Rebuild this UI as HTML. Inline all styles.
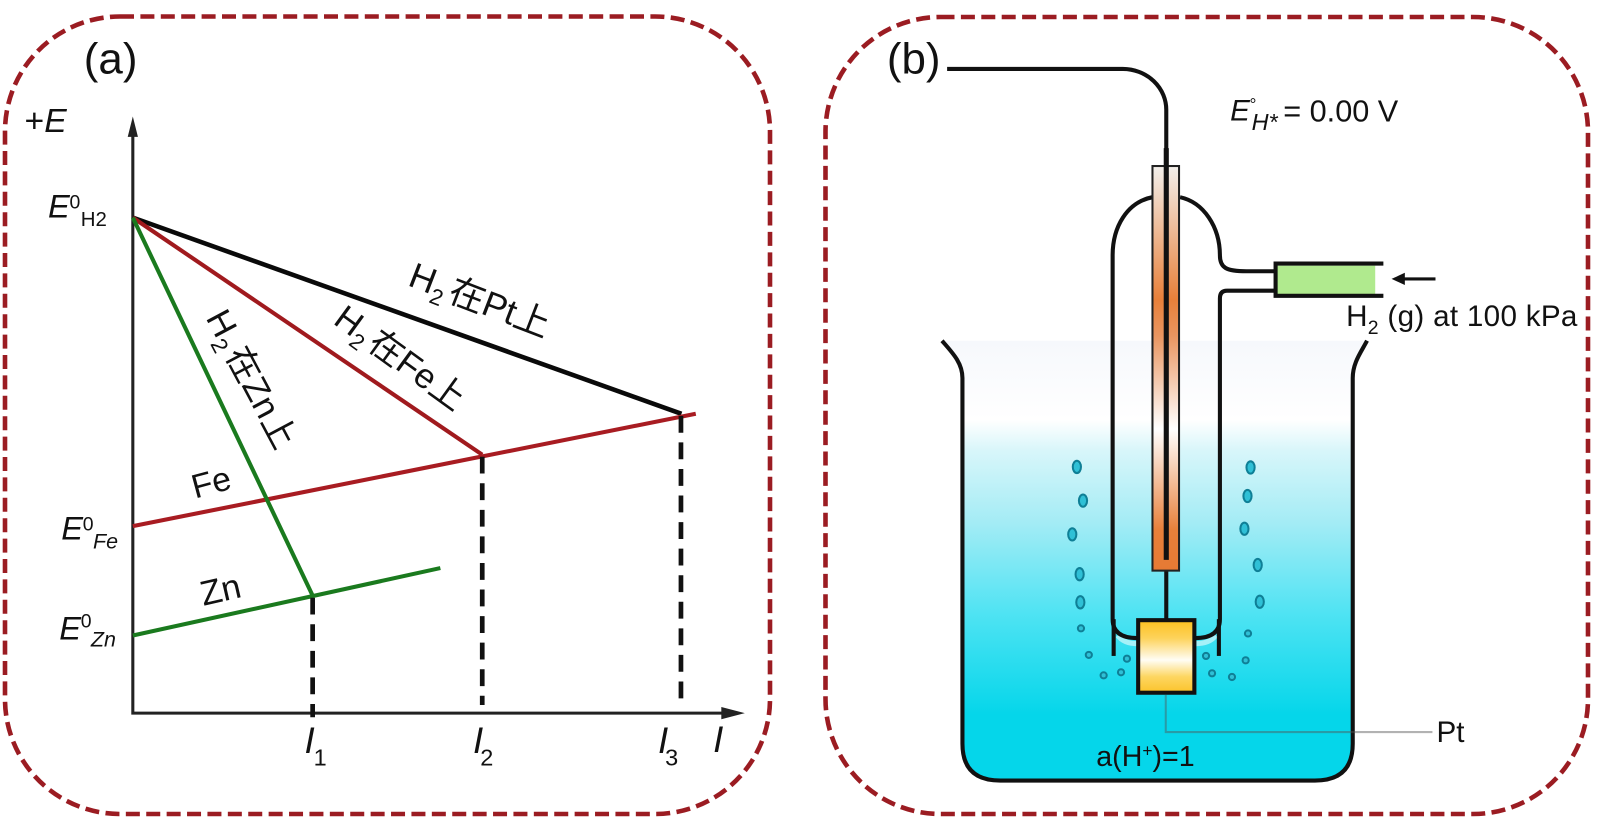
<!DOCTYPE html>
<html><head><meta charset="utf-8"><style>
html,body{margin:0;padding:0;background:#fff;width:1600px;height:818px;overflow:hidden}
svg{display:block}
text{font-family:"Liberation Sans","Noto Sans CJK SC",sans-serif;fill:#111}
</style></head><body>
<svg width="1600" height="818" viewBox="0 0 1600 818" xmlns="http://www.w3.org/2000/svg">
<defs>
<linearGradient id="w" x1="0" y1="0" x2="0" y2="1"><stop offset="0" stop-color="#f6f8fc"/><stop offset=".18" stop-color="#ffffff"/><stop offset=".25" stop-color="#d8f6fa"/><stop offset=".41" stop-color="#a5ecf5"/><stop offset=".62" stop-color="#4fe3f3"/><stop offset=".85" stop-color="#05d6ea"/><stop offset="1" stop-color="#05d6ea"/></linearGradient>
<linearGradient id="t" x1="0" y1="0" x2="0" y2="1"><stop offset="0" stop-color="#f3f0ec"/><stop offset=".33" stop-color="#e8803a"/><stop offset=".42" stop-color="#e99560"/><stop offset=".65" stop-color="#ffffff"/><stop offset=".9" stop-color="#e8803a"/><stop offset="1" stop-color="#e67a34"/></linearGradient>
<linearGradient id="p" x1="0" y1="0" x2="0" y2="1"><stop offset="0" stop-color="#fdc11f"/><stop offset=".25" stop-color="#fdd35c"/><stop offset=".55" stop-color="#fffdf5"/><stop offset=".78" stop-color="#fdd661"/><stop offset="1" stop-color="#fcc32a"/></linearGradient>
</defs>
<rect x="5" y="16.5" width="765" height="797.5" rx="115" fill="none" stroke="#9b1c22" stroke-width="4.6" stroke-dasharray="14 6.4"/>
<rect x="825.5" y="17" width="762.5" height="797" rx="115" fill="none" stroke="#9b1c22" stroke-width="4.6" stroke-dasharray="14 6.4"/>
<g transform="scale(1.0217)">
<!-- panel a -->
<text x="82" y="72" font-size="43">(a)</text>
<text x="24" y="129" font-size="33">+<tspan font-style="italic">E</tspan></text>
<path d="M130 125V698H712" fill="none" stroke="#222" stroke-width="3"/>
<path d="M130 114L125 134H135Z M729 698L706 692V704Z" fill="#222"/>
<g fill="none" stroke-width="4">
<path d="M130 213L667 405" stroke="#0a0a0a" stroke-width="4.5"/>
<path d="M130 213L472 445" stroke="#a01a1e"/>
<path d="M130 515L681 405" stroke="#a81c22"/>
<path d="M130 213L306 583" stroke="#1a7a1e"/>
<path d="M130 622L431 556" stroke="#1a7a1e"/>
<path d="M306 585V702M472 447V690M666.5 407V688" stroke="#111" stroke-width="4.6" stroke-dasharray="16.5 9.5"/>
</g>
<text x="47" y="213" font-size="32" font-style="italic">E</text><text x="68" y="204" font-size="19">0</text><text x="79" y="221" font-size="20">H2</text>
<text x="60" y="528" font-size="32" font-style="italic">E</text><text x="81" y="519" font-size="19">0</text><text x="91" y="537" font-size="21" font-style="italic">Fe</text>
<text x="58" y="626" font-size="32" font-style="italic">E</text><text x="79" y="614" font-size="19">0</text><text x="89" y="633" font-size="21" font-style="italic">Zn</text>
<text transform="translate(191 488) rotate(-15)" font-size="33">Fe</text>
<text transform="translate(199 593) rotate(-13)" font-size="34">Zn</text>
<text transform="translate(398 279) rotate(21)" font-size="35">H<tspan font-size="22" dy="8">2</tspan><tspan dy="-8" dx="4">在Pt上</tspan></text>
<text transform="translate(325 316) rotate(36)" font-size="34">H<tspan font-size="22" dy="8">2</tspan><tspan dy="-8" dx="4">在Fe上</tspan></text>
<text transform="translate(201 311) rotate(62)" font-size="34">H<tspan font-size="22" dy="8">2</tspan><tspan dy="-8" dx="4">在Zn上</tspan></text>
<text x="298" y="737" font-size="36" font-style="italic">I</text><text x="307" y="749" font-size="23">1</text>
<text x="463" y="737" font-size="36" font-style="italic">I</text><text x="470" y="749" font-size="23">2</text>
<text x="644" y="737" font-size="36" font-style="italic">I</text><text x="651" y="749" font-size="23">3</text>
<text x="698" y="736" font-size="36" font-style="italic">I</text>
<!-- panel b -->
<text x="868" y="72" font-size="43">(b)</text>
<path d="M922 333.5C932 345 942 355 942 370V728Q942 764 979 764H1287Q1324 764 1324 728V370C1324 355 1332 345 1338 333.5Z" fill="url(#w)"/>
<path d="M922 333.5C932 345 942 355 942 370V728Q942 764 979 764H1287Q1324 764 1324 728V370C1324 355 1332 345 1338 333.5" fill="none" stroke="#111" stroke-width="4"/>
<g fill="none" stroke="#fff" stroke-opacity=".55" stroke-width="5"><path d="M1094 622Q1100 630 1113 630"/><path d="M1190 622Q1184 630 1170 630"/></g>
<g fill="none" stroke="#111" stroke-width="4">
<path d="M1128 193C1103 198 1089 222 1089 250V606Q1089 624.500 1113 624.500"/>
<path d="M1090 606V642"/>
<path d="M1155 193C1178 198 1194 222 1194 250C1194 262 1200 265.500 1220 265.500H1250"/>
<path d="M1250 284.500H1201Q1194 284.500 1194 292V606Q1194 624.500 1170 624.500"/>
<path d="M1193 606V642"/>
</g>
<path d="M927 67.500H1099A42.500 40 0 0 1 1141.500 108V607" fill="none" stroke="#111" stroke-width="4"/>
<rect x="1128" y="162.500" width="26" height="396" fill="url(#t)" stroke="#222" stroke-width="2"/>
<path d="M1141.500 145V548" stroke="#111" stroke-width="5" fill="none"/>
<rect x="1114" y="607" width="55" height="71" fill="url(#p)" stroke="#111" stroke-width="4"/>
<rect x="1250" y="260" width="96" height="28" fill="#b0ea8e"/>
<path d="M1354 258H1248.500V289.500H1354" fill="none" stroke="#111" stroke-width="4"/>
<path d="M1405 273H1372" stroke="#111" stroke-width="3"/><path d="M1362 273L1375 267V279Z" fill="#111"/>
<path d="M1141 680V716.500H1402" fill="none" stroke="#555" stroke-opacity=".45" stroke-width="2"/>
<g fill="#2fc0d6" stroke="#0f7f96" stroke-width="2">
<ellipse cx="1054" cy="457" rx="4" ry="6"/><ellipse cx="1060" cy="490" rx="4" ry="6"/><ellipse cx="1049.500" cy="523" rx="4" ry="6"/><ellipse cx="1056.700" cy="562" rx="4" ry="6"/><ellipse cx="1057.400" cy="589.500" rx="4" ry="6"/>
<ellipse cx="1224" cy="457.500" rx="4" ry="6"/><ellipse cx="1221" cy="485.500" rx="4" ry="6"/><ellipse cx="1218" cy="517.500" rx="4" ry="6"/><ellipse cx="1231" cy="553" rx="4" ry="6"/><ellipse cx="1233" cy="589" rx="4" ry="6"/>
<circle cx="1058" cy="615" r="3"/><circle cx="1065.700" cy="641" r="3"/><circle cx="1103" cy="644.700" r="3"/><circle cx="1080.200" cy="661" r="3"/><circle cx="1097.200" cy="658" r="3"/>
<circle cx="1221.500" cy="620" r="3"/><circle cx="1219.200" cy="646.300" r="3"/><circle cx="1180.400" cy="642" r="3"/><circle cx="1186.300" cy="659" r="3"/><circle cx="1205.800" cy="662.600" r="3"/>
</g>
<text x="1204" y="118" font-size="29" font-style="italic">E</text><text x="1223" y="108" font-size="17">°</text><text x="1225" y="127" font-size="23" font-style="italic">H*</text><text x="1256" y="119" font-size="30" textLength="112.500">= 0.00 V</text>
<text x="1317.500" y="319" font-size="29" letter-spacing=".3">H<tspan font-size="19" dy="8">2</tspan><tspan dy="-8"> (g) at 100 kPa</tspan></text>
<text x="1406" y="726" font-size="29">Pt</text>
<text x="1073" y="749.500" font-size="28">a(H<tspan font-size="17" dy="-9">+</tspan><tspan dy="9">)=1</tspan></text>
</g>
</svg>
</body></html>
